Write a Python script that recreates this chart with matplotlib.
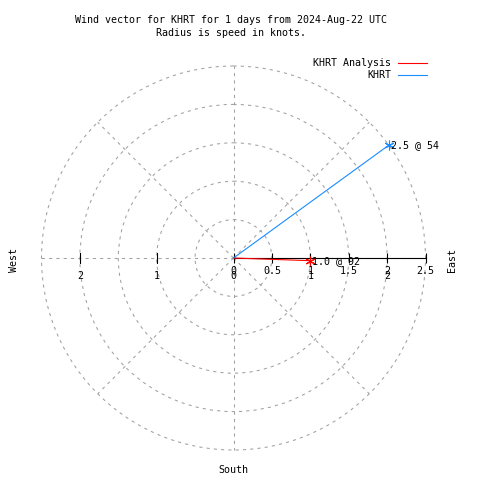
import matplotlib
matplotlib.use('Agg')
import matplotlib.pyplot as plt
from matplotlib.lines import Line2D
import numpy as np

plt.rcParams['font.family'] = 'DejaVu Sans Mono'
fs = 7.2

# data
station = 'KHRT'
series_names = ['KHRT Analysis', 'KHRT']
speeds = [1.0, 2.5]            # knots
directions = [92, 54]          # degrees, compass
series_colors = ['#ff0000', '#1a8cff']
rings = [0.5, 1.0, 1.5, 2.0, 2.5]
east_ticks = [0, 0.5, 1, 1.5, 2, 2.5]
east_labels = ['0', '0.5', '1', '1.5', '2', '2.5']
minor_ticks = [0, 1, 2]
minor_labels = ['0', '1', '2']
rmax = 2.5

W = 480
fig = plt.figure(figsize=(4.8, 4.8), dpi=100)
cx, cy, R = 233.5, 258, 192
ax = fig.add_axes([(cx - R) / W, (W - cy - R) / W, 2 * R / W, 2 * R / W],
                  projection='polar')
ax.set_theta_zero_location('N')
ax.set_theta_direction(-1)
ax.set_ylim(0, rmax)
ax.spines['polar'].set_visible(False)
ax.set_rgrids(rings, labels=[''] * len(rings))
ax.set_thetagrids(np.arange(0, 360, 45), labels=[''] * 8)
ax.grid(True, color='#a0a0a0', linestyle=(0, (3, 4)), linewidth=0.75)
for gl in ax.yaxis.get_gridlines() + ax.xaxis.get_gridlines():
    gl.set_clip_on(False)
ax.patch.set_alpha(0)

east = np.radians(90)
west = np.radians(270)
lw = 0.8

# black axis line with ticks
ax.plot([east, east], [0, rmax], color='black', lw=lw, zorder=3, clip_on=False)
ax.plot([east] * len(east_ticks), east_ticks, ls='none', marker='|',
        ms=7, mew=lw, color='black', zorder=3, clip_on=False)
ax.plot([west] * 2, [1, 2], ls='none', marker='|', ms=7, mew=lw,
        color='black', zorder=3)

for r, lab in zip(east_ticks, east_labels):
    ax.annotate(lab, (east, r), xytext=(0, -13), textcoords='offset pixels',
                ha='center', va='center', fontsize=fs, zorder=5)
for r, lab in zip(minor_ticks, minor_labels):
    ax.annotate(lab, (east, r), xytext=(0, -18), textcoords='offset pixels',
                ha='center', va='center', fontsize=fs, zorder=5)
    if r > 0:
        ax.annotate(lab, (west, r), xytext=(0, -18), textcoords='offset pixels',
                    ha='center', va='center', fontsize=fs, zorder=5)

# wind vectors
for spd, d, c in zip(speeds, directions, series_colors):
    th = np.radians(d)
    ax.plot([th, th], [0, spd], color=c, lw=lw, zorder=4, clip_on=False)
    ax.plot([th], [spd], ls='none', marker=(6, 2, 0), ms=7, mew=lw,
            color=c, zorder=4, clip_on=False)
    ax.annotate(f'{spd:.1f} @ {d}', (th, spd), xytext=(2, 0),
                textcoords='offset pixels', ha='left', va='center',
                fontsize=fs, zorder=5)

# titles
fig.text(231 / W, 1 - 20 / W,
         f'Wind vector for {station} for 1 days from 2024-Aug-22 UTC',
         ha='center', va='center', fontsize=fs)
fig.text(231 / W, 1 - 33 / W, 'Radius is speed in knots.',
         ha='center', va='center', fontsize=fs)

# legend
for i, (name, c) in enumerate(zip(series_names, series_colors)):
    y = 1 - (63 + 12 * i) / W
    fig.text(391 / W, y, name, ha='right', va='center', fontsize=fs)
    fig.add_artist(Line2D([398 / W, 427 / W], [y, y], color=c, lw=lw))

# compass labels
fig.text(14 / W, 1 - 260 / W, 'West', rotation=90, ha='center', va='center',
         fontsize=fs)
fig.text(452 / W, 1 - 260 / W, 'East', rotation=90, ha='center', va='center',
         fontsize=fs)
fig.text(233 / W, 1 - 470 / W, 'South', ha='center', va='center', fontsize=fs)

fig.savefig('out.png', dpi=100)
